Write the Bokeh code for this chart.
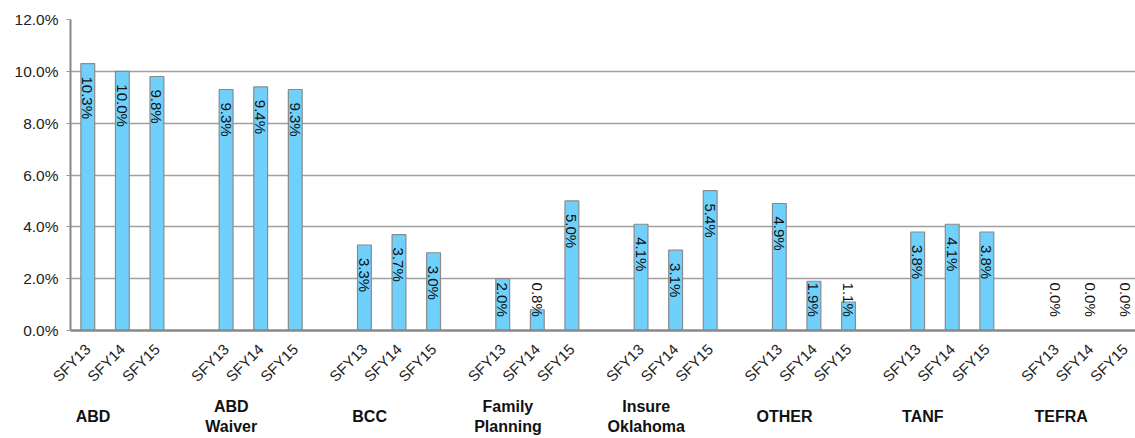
import math
from bokeh.plotting import figure
from bokeh.layouts import column
from bokeh.models import ColumnDataSource, FixedTicker, PrintfTickFormatter
from bokeh.core.properties import value
from bokeh.embed import file_html
from bokeh.resources import INLINE

groups = ["ABD", "ABD\nWaiver", "BCC", "Family\nPlanning", "Insure\nOklahoma", "OTHER", "TANF", "TEFRA"]
years = ["SFY13", "SFY14", "SFY15"]
sfy13 = [10.3, 9.3, 3.3, 2.0, 4.1, 4.9, 3.8, 0.0]
sfy14 = [10.0, 9.4, 3.7, 0.8, 3.1, 1.9, 4.1, 0.0]
sfy15 = [9.8, 9.3, 3.0, 5.0, 5.4, 1.1, 3.8, 0.0]
y_ticks = [0, 2, 4, 6, 8, 10, 12]

series = [sfy13, sfy14, sfy15]
xs, vals, labels, lab_y, tick_names = [], [], [], [], {}
for g in range(len(groups)):
    for k, s in enumerate(series):
        x = g * 4 + k
        xs.append(x)
        vals.append(s[g])
        labels.append("%.1f%%" % s[g])
        lab_y.append(max(s[g] - 0.5, 1.85))
        tick_names[x] = years[k]

src = ColumnDataSource(dict(x=xs, v=vals, t=labels, ly=lab_y))

FONT = "Liberation Sans"
p = figure(width=1135, height=393, output_backend="svg", toolbar_location=None,
           x_range=(-0.5, 30.3), y_range=(0, 12),
           min_border_left=70, min_border_right=0, min_border_top=19, min_border_bottom=60)
p.outline_line_color = None
p.xgrid.grid_line_color = None
p.ygrid.grid_line_color = "#a0a0a0"
p.ygrid.grid_line_width = 1.5

p.vbar(x="x", top="v", width=0.4, bottom=0, source=src,
       fill_color="#70D0FC", line_color="#8a8a8a", line_width=1.2)
p.text(x="x", y="ly", text="t", source=src, angle=-math.pi / 2,
       text_align="left", text_baseline="middle", text_font=value(FONT),
       text_font_size="15px", text_color="#111111")

p.yaxis.ticker = FixedTicker(ticks=y_ticks)
p.yaxis.formatter = PrintfTickFormatter(format="%.1f%%")
p.yaxis.axis_line_color = "#888888"
p.yaxis.axis_line_width = 2
p.yaxis.major_tick_out = 4
p.yaxis.major_tick_in = 0
p.yaxis.major_tick_line_color = "#999999"
p.yaxis.minor_tick_line_color = None
p.yaxis.major_label_text_font = FONT
p.yaxis.major_label_text_font_size = "15.5px"
p.yaxis.major_label_text_color = "#222222"
p.yaxis.major_label_standoff = 8

p.xaxis.ticker = FixedTicker(ticks=xs)
p.xaxis.major_label_overrides = tick_names
p.xaxis.major_label_orientation = math.pi / 4
p.xaxis.axis_line_color = "#888888"
p.xaxis.axis_line_width = 2.5
p.xaxis.major_tick_line_color = None
p.xaxis.minor_tick_line_color = None
p.xaxis.major_label_text_font = FONT
p.xaxis.major_label_text_font_size = "15px"
p.xaxis.major_label_text_color = "#222222"
p.xaxis.major_label_standoff = 10

# group label strip below the chart, sharing the x scale
gsrc = ColumnDataSource(dict(x=[g * 4 + 0.15 for g in range(len(groups))],
                             y=[23] * len(groups), t=groups))
p2 = figure(width=1135, height=45, output_backend="svg", toolbar_location=None,
            x_range=p.x_range, y_range=(45, 0), x_axis_type=None, y_axis_type=None,
            min_border=0, min_border_left=70, min_border_right=0)
p2.outline_line_color = None
p2.grid.grid_line_color = None
p2.text(x="x", y="y", text="t", source=gsrc, text_align="center", text_baseline="middle",
        text_font=value(FONT), text_font_style="bold", text_font_size="16px",
        text_color="#111111", text_line_height=1.2)

layout = column(p, p2, spacing=0)
open("out.html", "w").write(file_html(layout, INLINE))
